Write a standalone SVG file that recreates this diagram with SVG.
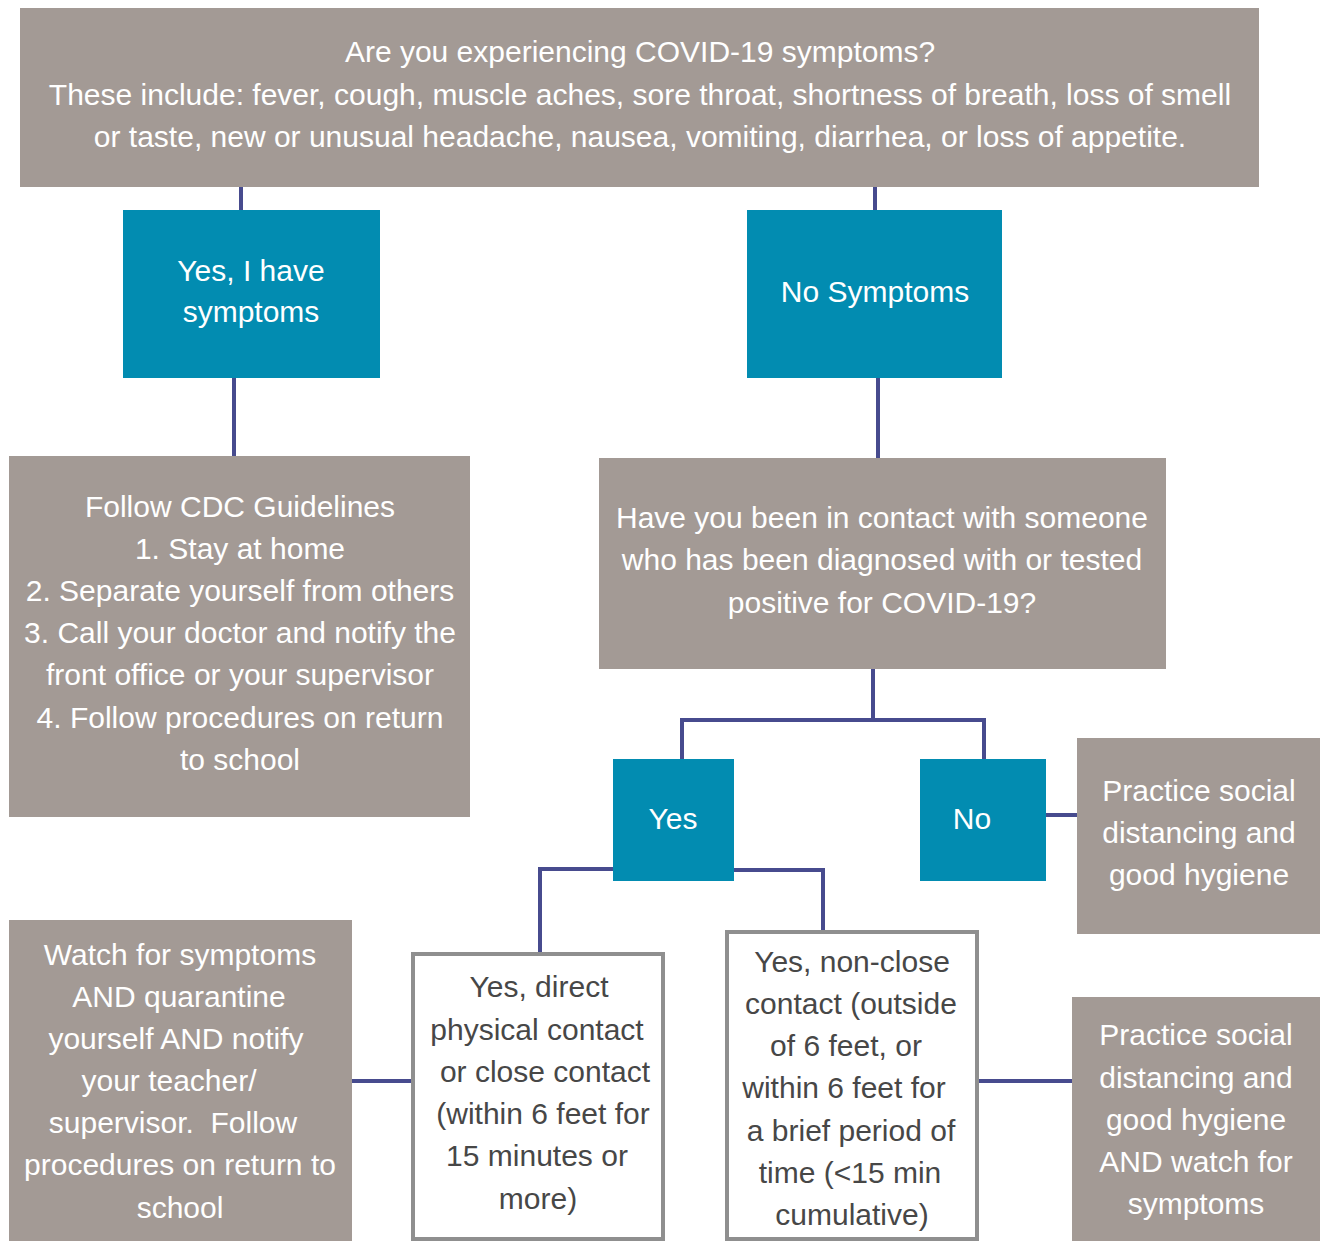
<svg xmlns="http://www.w3.org/2000/svg" width="1320" height="1241" viewBox="0 0 1320 1241">
<style>
text{font-family:"Liberation Sans",Arial,Helvetica,sans-serif;font-size:30px;text-anchor:middle}
.g{fill:#a39a95}
.t{fill:#028cb1}
.w{fill:#ffffff;stroke:#8f8f8f;stroke-width:4}
.lt{fill:#ffffff}
.dk{fill:#474747}
.c{stroke:#474b8e;stroke-width:4;fill:none}
</style>
<rect width="1320" height="1241" fill="#ffffff"/>
<g id="connectors">
<path class="c" d="M241 187V210"/>
<path class="c" d="M875 187V210"/>
<path class="c" d="M234 378V456"/>
<path class="c" d="M878 378V458"/>
<path class="c" d="M873 669V720M682 760V720H984V760"/>
<path class="c" d="M1046 815H1077"/>
<path class="c" d="M613 869H540V952"/>
<path class="c" d="M734 870H823V930"/>
<path class="c" d="M352 1081H411"/>
<path class="c" d="M979 1081H1072"/>
</g>
<g id="q1">
<rect class="g" x="20" y="8" width="1239" height="179"/>
<text class="lt"><tspan x="640" y="62">Are you experiencing COVID-19 symptoms?</tspan><tspan x="640" y="105">These include: fever, cough, muscle aches, sore throat, shortness of breath, loss of smell</tspan><tspan x="640" y="147">or taste, new or unusual headache, nausea, vomiting, diarrhea, or loss of appetite.</tspan></text>
</g>
<g id="yes-symptoms">
<rect class="t" x="123" y="210" width="257" height="168"/>
<text class="lt"><tspan x="251" y="281">Yes, I have</tspan><tspan x="251" y="322">symptoms</tspan></text>
</g>
<g id="no-symptoms">
<rect class="t" x="747" y="210" width="255" height="168"/>
<text class="lt" x="875" y="302">No Symptoms</text>
</g>
<g id="cdc">
<rect class="g" x="9" y="456" width="461" height="361"/>
<text class="lt"><tspan x="240" y="517">Follow CDC Guidelines</tspan><tspan x="240" y="559">1. Stay at home</tspan><tspan x="240" y="601">2. Separate yourself from others</tspan><tspan x="240" y="643">3. Call your doctor and notify the</tspan><tspan x="240" y="685">front office or your supervisor</tspan><tspan x="240" y="728">4. Follow procedures on return</tspan><tspan x="240" y="770">to school</tspan></text>
</g>
<g id="q2">
<rect class="g" x="599" y="458" width="567" height="211"/>
<text class="lt"><tspan x="882" y="528">Have you been in contact with someone</tspan><tspan x="882" y="570">who has been diagnosed with or tested</tspan><tspan x="882" y="613">positive for COVID-19?</tspan></text>
</g>
<g id="yes">
<rect class="t" x="613" y="759" width="121" height="122"/>
<text class="lt" x="673" y="829">Yes</text>
</g>
<g id="no">
<rect class="t" x="920" y="759" width="126" height="122"/>
<text class="lt" x="972" y="829">No</text>
</g>
<g id="practice1">
<rect class="g" x="1077" y="738" width="243" height="196"/>
<text class="lt"><tspan x="1199" y="801">Practice social</tspan><tspan x="1199" y="843">distancing and</tspan><tspan x="1199" y="885">good hygiene</tspan></text>
</g>
<g id="watch">
<rect class="g" x="9" y="920" width="343" height="321"/>
<text class="lt"><tspan x="180" y="965">Watch for symptoms</tspan><tspan x="179" y="1007">AND quarantine</tspan><tspan x="176" y="1049">yourself AND notify</tspan><tspan x="169" y="1091">your teacher/</tspan><tspan x="173" y="1133">supervisor.&#160; Follow</tspan><tspan x="180" y="1175">procedures on return to</tspan><tspan x="180" y="1218">school</tspan></text>
</g>
<g id="direct">
<rect class="w" x="413" y="954" width="250" height="285"/>
<text class="dk"><tspan x="539" y="997">Yes, direct</tspan><tspan x="537" y="1040">physical contact</tspan><tspan x="545" y="1082">or close contact</tspan><tspan x="543" y="1124">(within 6 feet for</tspan><tspan x="537" y="1166">15 minutes or</tspan><tspan x="538" y="1209">more)</tspan></text>
</g>
<g id="nonclose">
<rect class="w" x="727" y="932" width="250" height="307"/>
<text class="dk"><tspan x="852" y="972">Yes, non-close</tspan><tspan x="851" y="1014">contact (outside</tspan><tspan x="846" y="1056">of 6 feet, or</tspan><tspan x="844" y="1098">within 6 feet for</tspan><tspan x="851" y="1141">a brief period of</tspan><tspan x="850" y="1183">time (&lt;15 min</tspan><tspan x="852" y="1225">cumulative)</tspan></text>
</g>
<g id="practice2">
<rect class="g" x="1072" y="997" width="248" height="244"/>
<text class="lt"><tspan x="1196" y="1045">Practice social</tspan><tspan x="1196" y="1088">distancing and</tspan><tspan x="1196" y="1130">good hygiene</tspan><tspan x="1196" y="1172">AND watch for</tspan><tspan x="1196" y="1214">symptoms</tspan></text>
</g>
</svg>
